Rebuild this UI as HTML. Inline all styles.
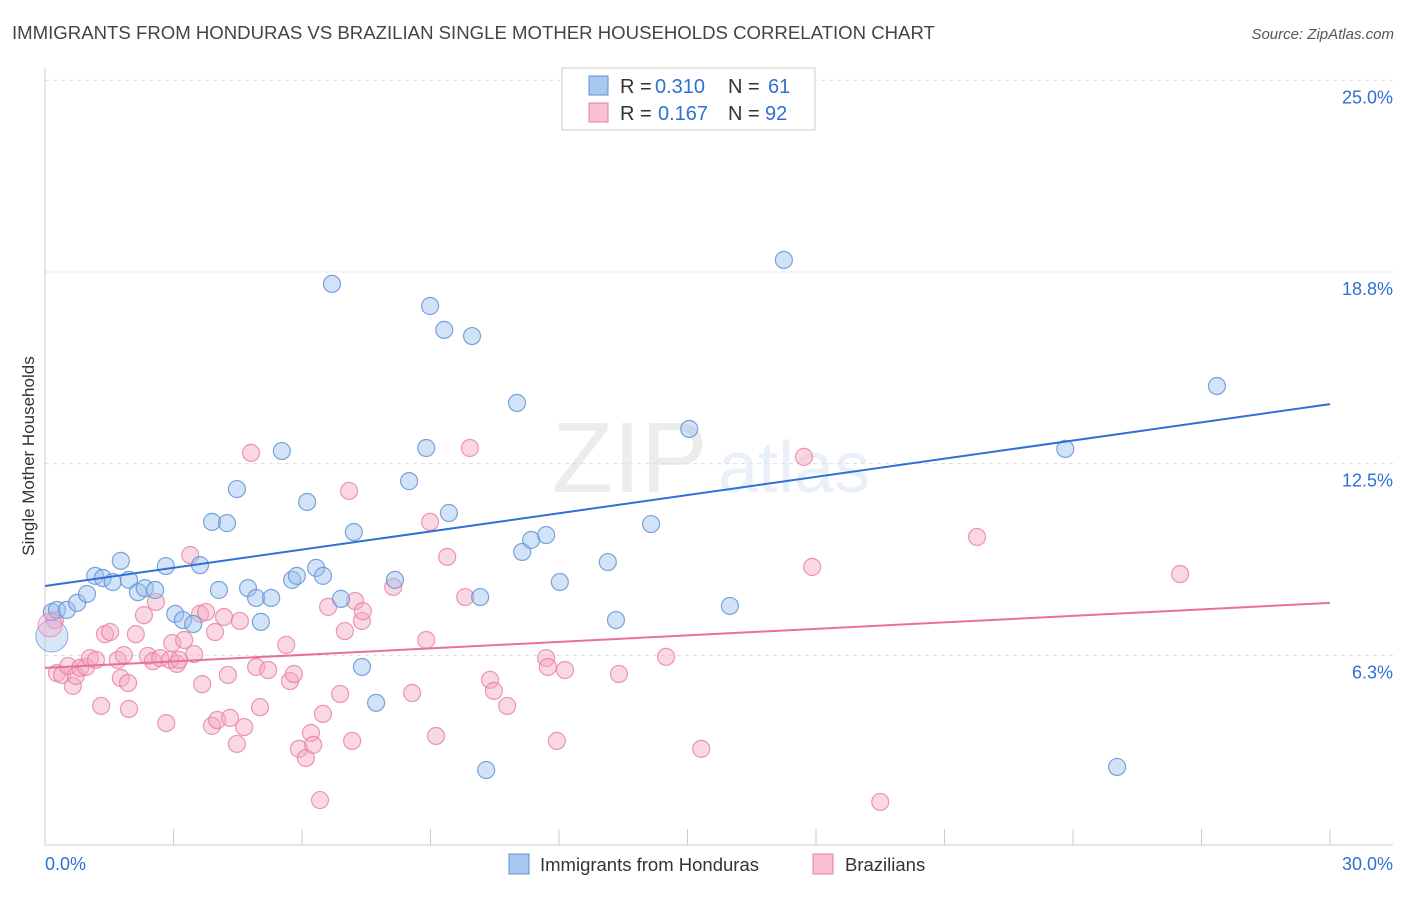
<!DOCTYPE html>
<html><head><meta charset="utf-8"><style>
body{margin:0;background:#fff;font-family:"Liberation Sans",sans-serif}
svg text{font-family:"Liberation Sans",sans-serif}
</style></head><body>
<svg id="chart" width="1406" height="892" xmlns="http://www.w3.org/2000/svg">
<text x="12" y="39" font-size="18.6" fill="#444">IMMIGRANTS FROM HONDURAS VS BRAZILIAN SINGLE MOTHER HOUSEHOLDS CORRELATION CHART</text>
<text x="1394" y="39" font-size="15" fill="#555" text-anchor="end" font-style="italic">Source: ZipAtlas.com</text>
<g opacity="0.13">
<text x="552" y="492" font-size="100" font-family="Liberation Serif" fill="#777">ZIP</text>
<text x="718" y="492" font-size="72" fill="#5b8fd6">atlas</text>
</g>
<g id="grid"></g>
<g id="axes"></g>
<g id="marks"></g>
<text transform="translate(34,456) rotate(-90)" font-size="17" fill="#333" text-anchor="middle">Single Mother Households</text>
<g>
<rect x="562" y="68" width="253" height="62" fill="#fff" stroke="#ccc"/>
<rect x="589" y="76" width="19" height="19" fill="#a9c8f0" stroke="#5b8fd6"/>
<rect x="589" y="103" width="19" height="19" fill="#f8c0d2" stroke="#e87ea0"/>
<text x="620" y="93" font-size="20" fill="#333">R =</text>
<text x="655" y="93" font-size="20" fill="#2f6fd6">0.310</text>
<text x="728" y="93" font-size="20" fill="#333">N =</text>
<text x="768" y="93" font-size="20" fill="#2f6fd6">61</text>
<text x="620" y="120" font-size="20" fill="#333">R =</text>
<text x="658" y="120" font-size="20" fill="#2f6fd6">0.167</text>
<text x="728" y="120" font-size="20" fill="#333">N =</text>
<text x="765" y="120" font-size="20" fill="#2f6fd6">92</text>
</g>
<g>
<rect x="509" y="854" width="20" height="20" fill="#a9c8f0" stroke="#5b8fd6"/>
<text x="540" y="871" font-size="18.5" fill="#333">Immigrants from Honduras</text>
<rect x="813" y="854" width="20" height="20" fill="#f8c0d2" stroke="#e87ea0"/>
<text x="845" y="871" font-size="18.5" fill="#333">Brazilians</text>
</g>
</svg>
<script>
const yTicks=[6.25,12.5,18.75,25];
const yTickLabels=["6.3%","12.5%","18.8%","25.0%"];
const xTicks=[0,3,6,9,12,15,18,21,24,27,30];
const xEndLabels=["0.0%","30.0%"];
const blueX=[0.16,0.28,0.51,0.75,0.98,1.17,1.35,1.58,1.77,1.96,2.17,2.33,2.57,2.82,3.04,3.22,3.46,3.62,3.9,4.25,4.06,4.48,4.74,4.93,5.04,5.28,5.53,5.77,5.88,6.12,6.33,6.49,6.7,6.91,7.21,7.4,7.73,8.17,8.5,8.9,8.99,9.32,9.43,9.97,10.16,10.3,11.02,11.14,11.35,11.7,12.02,13.14,13.33,14.15,15.04,15.99,17.25,23.82,25.03,27.36];
const blueY=[7.66,7.73,7.73,7.96,8.25,8.84,8.77,8.64,9.33,8.71,8.31,8.44,8.38,9.16,7.6,7.4,7.27,9.19,10.6,10.56,8.38,11.67,8.44,8.12,7.34,8.12,12.91,8.71,8.84,11.25,9.1,8.84,18.36,8.09,10.27,5.87,4.7,8.71,11.93,13.01,17.64,16.86,10.89,16.66,8.15,2.51,14.48,9.62,10.01,10.17,8.64,9.29,7.4,10.53,13.63,7.86,19.14,12.98,2.61,15.03];
const pinkX=[0.23,0.28,0.4,0.54,0.65,0.72,0.82,0.96,1.05,1.19,1.31,1.4,1.52,1.7,1.77,1.84,1.96,1.94,2.12,2.31,2.4,2.52,2.59,2.69,2.83,2.92,2.97,3.08,3.13,3.25,3.39,3.48,3.62,3.67,3.76,3.9,3.97,4.02,4.18,4.27,4.32,4.48,4.55,4.65,4.81,4.93,5.02,5.21,5.63,5.72,5.81,5.93,6.09,6.21,6.26,6.42,6.49,6.61,6.89,7.0,7.1,7.17,7.24,7.4,7.42,8.13,8.57,8.9,8.99,9.13,9.39,9.81,9.92,10.39,10.48,10.79,11.7,11.74,11.95,12.14,13.4,14.5,15.32,17.72,17.91,19.5,21.76,26.5];
const pinkY=[7.4,5.67,5.61,5.9,5.25,5.58,5.84,5.87,6.16,6.1,4.6,6.94,7.01,6.1,5.51,6.26,4.5,5.35,6.94,7.56,6.23,6.06,7.99,6.16,4.04,6.1,6.65,5.97,6.1,6.75,9.52,6.29,7.6,5.31,7.66,3.95,7.01,4.14,7.5,5.61,4.21,3.36,7.37,3.91,12.85,5.87,4.56,5.77,6.59,5.41,5.64,3.2,2.9,3.72,3.33,1.53,4.34,7.83,4.99,7.04,11.61,3.46,8.02,7.37,7.69,8.48,5.02,6.75,10.6,3.62,9.46,8.15,13.01,5.45,5.09,4.6,6.16,5.87,3.46,5.77,5.64,6.2,3.2,12.72,9.13,1.47,10.11,8.9];
const bigBlue=[0.16,6.88];
const bigPink=[0.12,7.24];
const blueTrend=[8.51,14.44];
const pinkTrend=[5.84,7.96];

const X0=45,X1=1330,Y0=847,PXY=30.67;
const sx=v=>X0+(X1-X0)*v/30;
const sy=v=>Y0-v*PXY;
const NS="http://www.w3.org/2000/svg";
function mk(tag,parent,attrs){const e=document.createElementNS(NS,tag);for(const k in attrs)e.setAttribute(k,attrs[k]);document.getElementById(parent).appendChild(e);return e;}

yTicks.forEach((t,i)=>{
  const l=mk('line','grid',{x1:X0,x2:1393,y1:sy(t),y2:sy(t),stroke:'#ddd','stroke-dasharray':'4,4'});
  
  
  const tx=mk('text','grid',{x:1393,y:sy(t)+23,'font-size':18,fill:'#2f6fd6','text-anchor':'end'});
  tx.textContent=yTickLabels[i];
  
  
});
const ya=mk('line','axes',{x1:X0,x2:X0,y1:68,y2:845,stroke:'#ccc'});


const xa=mk('line','axes',{x1:X0,x2:1393,y1:845,y2:845,stroke:'#ccc'});


xTicks.forEach(t=>{
  const l=mk('line','axes',{x1:sx(t),x2:sx(t),y1:829,y2:845,stroke:'#ccc'});
  
  
});
[[0,'start',45],[30,'end',1393]].forEach((d,i)=>{
  const tx=mk('text','axes',{x:d[2],y:870,'font-size':18,fill:'#2f6fd6','text-anchor':d[1]});
  tx.textContent=xEndLabels[i];
  
  
});

function dots(xs,ys,fill,stroke,name){
  xs.forEach((x,i)=>{
    const c=mk('circle','marks',{cx:sx(x),cy:sy(ys[i]),r:8.5,fill:fill,'fill-opacity':0.45,stroke:stroke,'stroke-width':1.2,'stroke-opacity':0.8});
    
    
  });
}
dots(pinkX,pinkY,'#f5a9c2','#e87ea0','brazilians-point');
dots(blueX,blueY,'#9cc0ee','#5b8fd6','honduras-point');
const bb=mk('circle','marks',{cx:sx(bigBlue[0]),cy:sy(bigBlue[1]),r:16,fill:'#9cc0ee','fill-opacity':0.4,stroke:'#5b8fd6','stroke-opacity':0.7});


const bp=mk('circle','marks',{cx:sx(bigPink[0]),cy:sy(bigPink[1]),r:12,fill:'#f5a9c2','fill-opacity':0.4,stroke:'#e87ea0','stroke-opacity':0.7});


const bt=mk('line','marks',{x1:sx(0),x2:sx(30),y1:sy(blueTrend[0]),y2:sy(blueTrend[1]),stroke:'#2f6fd6','stroke-width':2});


const pt=mk('line','marks',{x1:sx(0),x2:sx(30),y1:sy(pinkTrend[0]),y2:sy(pinkTrend[1]),stroke:'#e8709a','stroke-width':2});


</script>
</body></html>
